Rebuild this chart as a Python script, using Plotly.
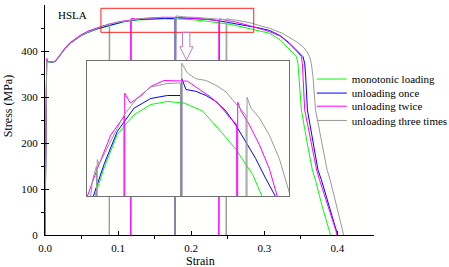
import plotly.graph_objects as go

# ---------------- data ----------------
series_names = ["monotonic loading", "unloading once", "unloading twice", "unloading three times"]

mono_strain = [0, 0.0016, 0.0023, 0.004, 0.009, 0.014, 0.020, 0.027, 0.034, 0.041, 0.048, 0.059, 0.070,
               0.086, 0.0958, 0.110, 0.128, 0.146, 0.1635, 0.1814, 0.2014, 0.2191, 0.237, 0.2549, 0.2648,
               0.280, 0.295, 0.3074, 0.322, 0.3347, 0.3438, 0.346, 0.3475, 0.3507, 0.358, 0.3657, 0.3698,
               0.379, 0.3893, 0.3902]
mono_stress = [0, 372, 378, 376, 375, 377, 390, 404, 416, 425, 432, 440, 446.5,
               454.0, 458.7, 464.3, 467.6, 469.3, 469.8, 469.55, 468.2, 465.1, 461.8, 457.6, 454.0,
               449, 443, 438.5, 424, 402, 387.6, 373, 344, 272, 205, 141, 120,
               63, 7, 0]

once_strain = [0, 0.0016, 0.0023, 0.004, 0.009, 0.014, 0.020, 0.027, 0.034, 0.041, 0.048, 0.059, 0.070,
               0.0844, 0.0958, 0.110, 0.128, 0.1458, 0.1635, 0.176, 0.1776, 0.1776, 0.1779, 0.179,
               0.1835, 0.194, 0.205, 0.2156, 0.2263, 0.237, 0.2477, 0.258, 0.269, 0.279, 0.293, 0.3074,
               0.322, 0.3347, 0.345, 0.3529, 0.3552, 0.3566, 0.3589, 0.3734, 0.378, 0.3996, 0.4003]
once_stress = [0, 372, 379, 377, 376, 377, 390, 404, 416, 425, 432, 441, 447.5,
               454.0, 459.3, 464.8, 468.7, 470.3, 470.8, 470.8, 470.8, 0, 0, 473.6,
               471.8, 471.5, 470.8, 469.8, 468.2, 465.8, 463.05, 460.3, 456.9, 454.2, 450, 444.5,
               433, 416.7, 400, 387.6, 373, 344, 272, 141, 120, 6.5, 0]

twice_strain = [0, 0.0016, 0.0023, 0.004, 0.009, 0.014, 0.020, 0.027, 0.034, 0.041, 0.048, 0.059, 0.070,
                0.078, 0.0887, 0.103, 0.1154, 0.1172, 0.1172, 0.1175, 0.118, 0.124, 0.135, 0.1458, 0.160,
                0.174, 0.185, 0.198, 0.2085, 0.219, 0.2298, 0.237, 0.2377, 0.2377, 0.238, 0.2388, 0.2424,
                0.2513, 0.262, 0.2726, 0.2816, 0.295, 0.3074, 0.322, 0.3347, 0.345, 0.3507, 0.352, 0.353,
                0.3552, 0.3716, 0.3755, 0.3985, 0.3992]
twice_stress = [0, 372, 384, 377, 376, 378, 392, 406, 418, 427, 434, 443.5, 450,
                454.0, 458.6, 464.2, 467.0, 467.3, 0, 0, 471.2, 469.55, 470.7, 472.3, 473.3,
                473.3, 473.2, 471.8, 470.7, 469.3, 467.2, 466.1, 466.0, 0, 0, 469.7, 468.2,
                465.9, 462.6, 458.6, 454.2, 448, 442, 432, 415, 398, 387.6, 373, 344,
                272, 141, 120, 6.5, 0]

three_strain = [0, 0.0016, 0.0023, 0.004, 0.009, 0.014, 0.020, 0.027, 0.034, 0.041, 0.048, 0.059, 0.070,
                0.0816, 0.0833, 0.087, 0.0878, 0.0878, 0.0881, 0.0886, 0.0905, 0.103, 0.117, 0.1314, 0.1458,
                0.1635, 0.176, 0.1776, 0.1776, 0.1779, 0.179, 0.185, 0.194, 0.205, 0.2156, 0.2263, 0.237,
                0.2459, 0.2477, 0.2477, 0.248, 0.2488, 0.253, 0.262, 0.2726, 0.2833, 0.2923, 0.3074, 0.3255,
                0.3347, 0.345, 0.353, 0.358, 0.362, 0.3643, 0.3666, 0.3685, 0.370, 0.3859, 0.390, 0.4075, 0.4082]
three_stress = [0, 372, 379, 377, 376, 377, 390, 404, 416, 425, 432, 441, 448,
                454.0, 456.5, 458.7, 459.0, 0, 0, 460.1, 459.3, 463.2, 467.5, 470.4, 472.2,
                472.8, 472.9, 472.9, 0, 0, 476.2, 474.55, 473.6, 473.3, 472.5, 471.4, 469.4,
                467.8, 467.5, 0, 0, 470.5, 468.7, 467.05, 464.2, 460.3, 455.8, 449.3, 438,
                429, 419, 409, 399, 387.6, 373, 344, 300, 272, 141, 120, 7, 0]

x_tick_vals = [0.0, 0.1, 0.2, 0.3, 0.4]
x_tick_text = ["0.0", "0.1", "0.2", "0.3", "0.4"]
y_tick_vals = [0, 100, 200, 300, 400, 500]

# ---------------- style ----------------
colors = ["#00ff00", "#0000ff", "#ff00ff", "#999999"]
FONT = "Liberation Serif"
series = [(mono_strain, mono_stress), (once_strain, once_stress),
          (twice_strain, twice_stress), (three_strain, three_stress)]
legend_ids = ["legend", "legend2", "legend3", "legend4"]
legend_y = [0.678, 0.617, 0.560, 0.498]

fig = go.Figure()
for (sx, sy), name, col, lid in zip(series, series_names, colors, legend_ids):
    fig.add_trace(go.Scatter(x=sx, y=sy, mode="lines", name=name, legend=lid,
                             line=dict(color=col, width=1), xaxis="x", yaxis="y"))
for (sx, sy), name, col in zip(series, series_names, colors):
    fig.add_trace(go.Scatter(x=sx, y=sy, mode="lines", name=name, showlegend=False,
                             line=dict(color=col, width=1), xaxis="x2", yaxis="y2"))

axis_font = dict(family=FONT, size=11, color="black")
fig.update_layout(
    width=449, height=267,
    margin=dict(l=45, r=75, t=5, b=32, autoexpand=False),
    paper_bgcolor="white", plot_bgcolor="#fffffe",
    font=dict(family=FONT, size=11, color="black"),
    xaxis=dict(range=[0, 0.45], showline=True, linecolor="black", linewidth=1,
               showgrid=False, zeroline=False, ticks="inside", ticklen=4, tickcolor="black",
               tickvals=x_tick_vals, ticktext=x_tick_text, tickfont=axis_font,
               ticklabelstandoff=3,
               minor=dict(tickvals=[0.05, 0.15, 0.25, 0.35, 0.45], ticks="outside", ticklen=3,
                          tickcolor="black", showgrid=False)),
    yaxis=dict(range=[0, 500], showline=True, linecolor="black", linewidth=1,
               showgrid=False, zeroline=False, ticks="inside", ticklen=4, tickcolor="black",
               tickvals=y_tick_vals, tickfont=axis_font, ticklabelstandoff=4,
               minor=dict(dtick=50, ticks="outside", ticklen=3, tickcolor="black", showgrid=False)),
    xaxis2=dict(domain=[0.1267, 0.7426], range=[0.0773, 0.294], anchor="y2",
                showline=True, mirror=True, linecolor="#707070", linewidth=1,
                showgrid=False, zeroline=False, ticks="", showticklabels=False),
    yaxis2=dict(domain=[0.1683, 0.7578], range=[454, 476.6], anchor="x2",
                showline=True, mirror=True, linecolor="#707070", linewidth=1,
                showgrid=False, zeroline=False, ticks="", showticklabels=False),
)

for lid, ly in zip(legend_ids, legend_y):
    fig.update_layout({lid: dict(x=0.811, y=ly, xanchor="left", yanchor="middle",
                                 bgcolor="rgba(0,0,0,0)", borderwidth=0,
                                 font=dict(family=FONT, size=11, color="black"))})

# zoom box and arrow
fig.add_shape(type="rect", xref="x", yref="y", x0=0.0765, x1=0.2855, y0=440.6, y1=492.8,
              line=dict(color="#ff2020", width=1), layer="above")
fig.add_shape(type="path", xref="x", yref="y",
              path="M 0.1880,440.6 L 0.1981,440.6 L 0.1981,409.3 L 0.2026,409.3 L 0.1936,380.4 "
                   "L 0.1844,409.3 L 0.1880,409.3 Z",
              line=dict(color="#c878c8", width=1), fillcolor="rgba(0,0,0,0)", layer="above")

fig.add_annotation(x=0.0376, y=478, xref="x", yref="y", text="HSLA", showarrow=False,
                   font=dict(family=FONT, size=11, color="black"))
fig.add_annotation(x=0.213, y=0, xref="x", yref="paper", yshift=-26, text="Strain",
                   showarrow=False, yanchor="middle", font=dict(family=FONT, size=12, color="black"))
fig.add_annotation(x=0, y=0.56, xref="paper", yref="paper", xshift=-37, text="Stress (MPa)",
                   textangle=-90, showarrow=False, xanchor="center", yanchor="middle",
                   font=dict(family=FONT, size=12, color="black"))

fig.write_html("out.html", config={"displayModeBar": False},
               post_script="document.body.style.margin='0';")
